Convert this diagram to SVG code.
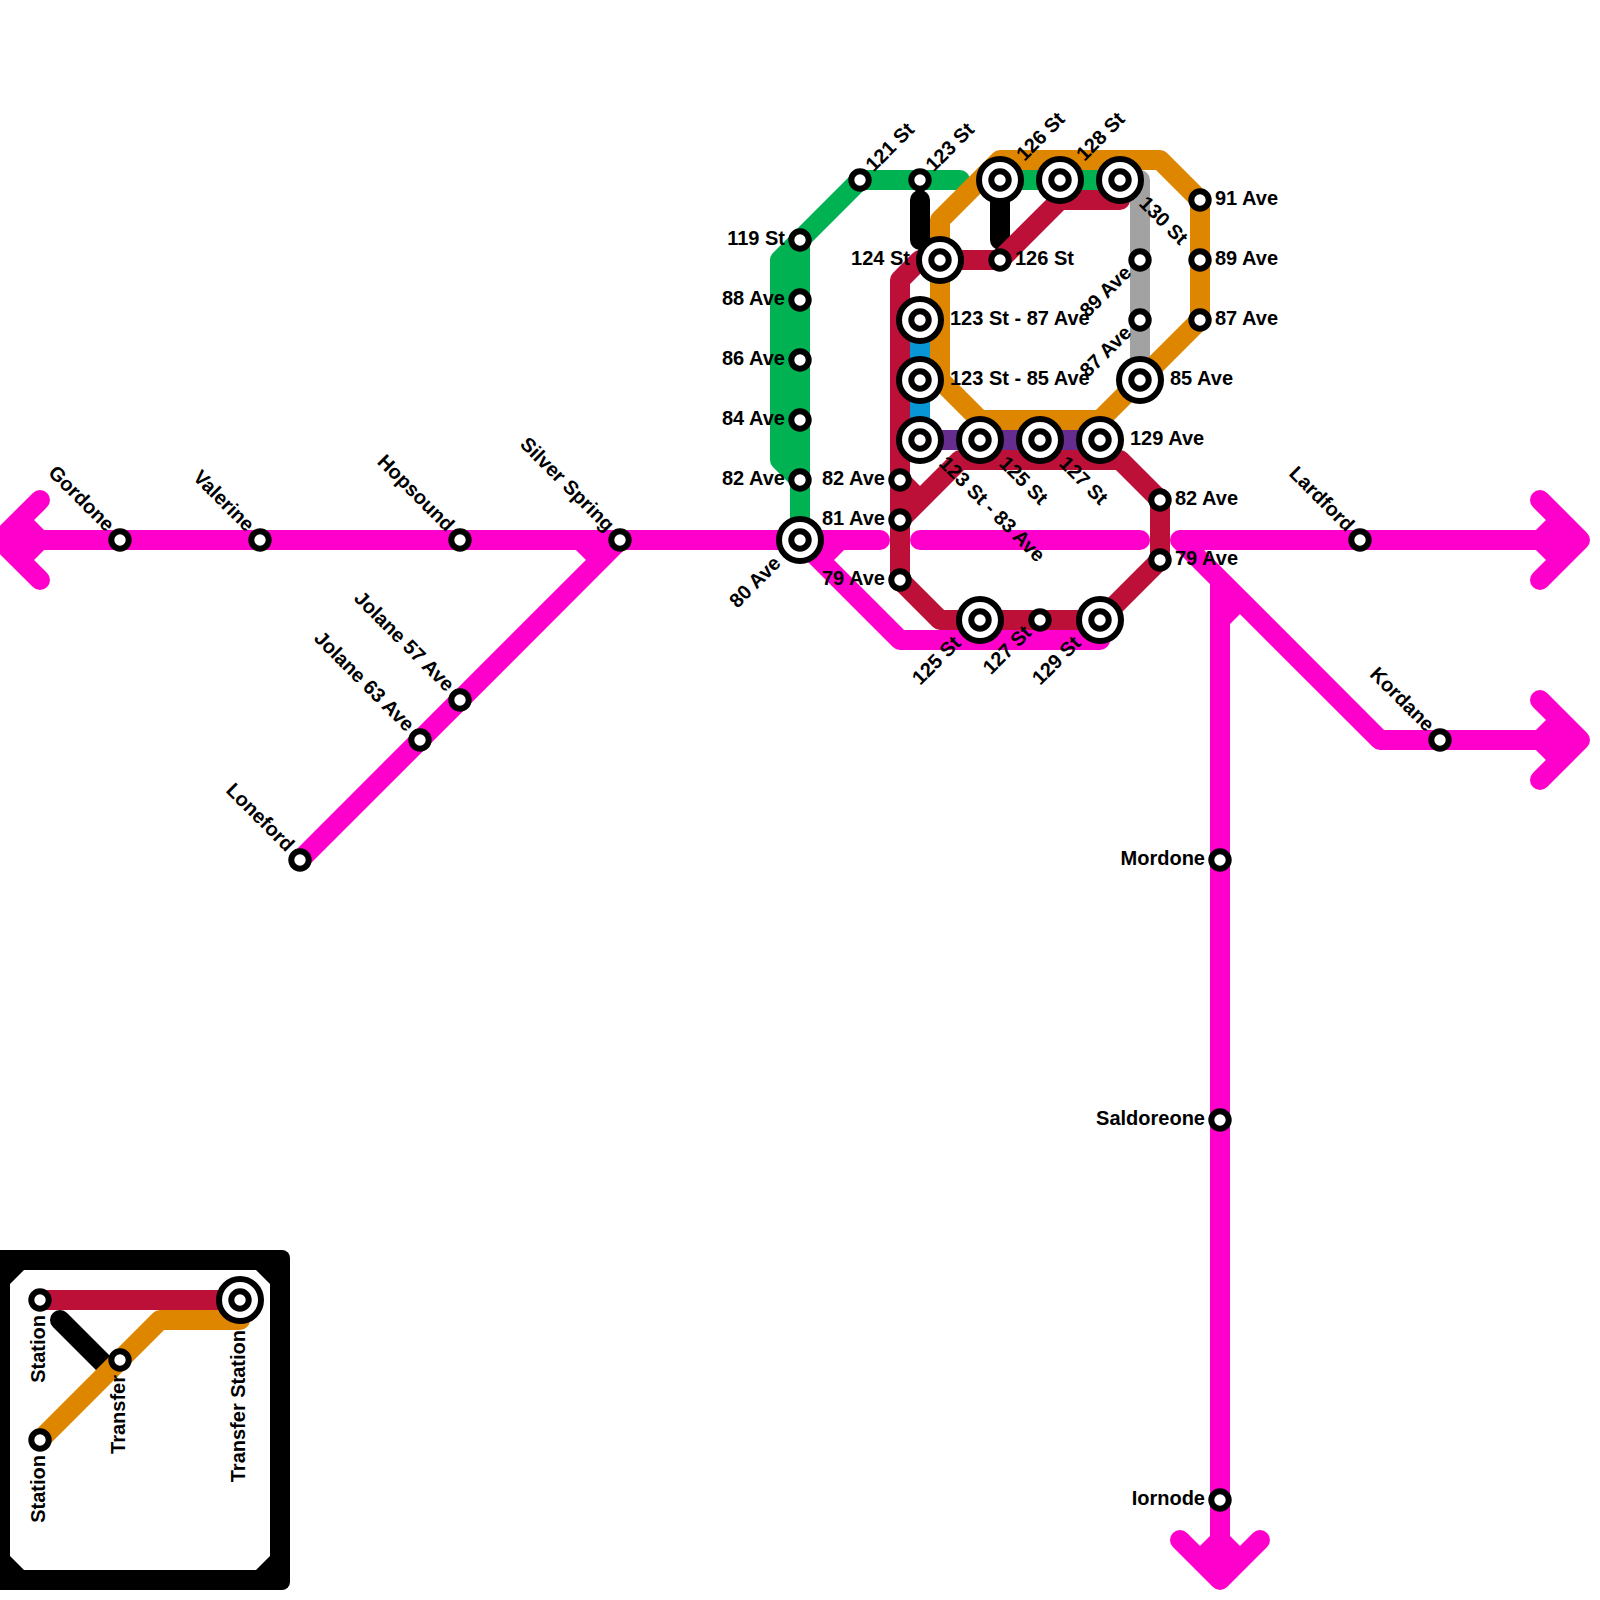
<svg xmlns="http://www.w3.org/2000/svg" width="1600" height="1600" viewBox="0 0 1600 1600">
<style>
.ln{fill:none;stroke-width:20;stroke-linecap:round;stroke-linejoin:round}
.bt{stroke-linecap:butt}
.m{stroke:#ff00cc}.r{stroke:#bd1038}.o{stroke:#df8600}.g{stroke:#00b251}.s{stroke:#a2a2a2}.b{stroke:#0896d7}.p{stroke:#662c90}.k{stroke:#000}
.st{fill:#fff;stroke:#000;stroke-width:6}
text{font-family:"Liberation Sans",Arial,sans-serif;font-size:20px;font-weight:bold;fill:#000}
.e{text-anchor:end}
</style>
<defs>
<g id="s"><circle class="st" r="8.7"/></g>
<g id="t"><circle class="st" r="21"/><circle class="st" r="8.7"/></g>
</defs>
<g id="legend-box"><rect x="-10" y="1250" width="300" height="340" rx="8" fill="#000"/><polygon points="24,1270 256,1270 270,1284 270,1556 256,1570 24,1570 10,1556 10,1284" fill="#fff"/></g>
<g id="connectors">
<path class="ln k" d="M920 200V240M1000 180V240M60 1320L110 1370"/>
<path class="ln s" d="M1120 180H1140V380"/>
<path class="ln g" d="M800 520V240L860 180H960M800 240L780 260V460L800 480M1000 180H1120"/>
<path class="ln b" d="M920 320V440"/>
<path class="ln p" d="M920 440H1100"/>
<path class="ln o" d="M1000 160H1160L1200 200V320L1100 420H980L940 380V220ZM40 1440L160 1320H240"/>
<path class="ln m bt" d="M1220 1580V580M1220 620L1240 600M1540 540L1560 520M1540 540L1560 560M1540 740L1560 720M1540 740L1560 760M40 540L20 520M40 540L20 560M1220 1540L1200 1560M1220 1540L1240 1560"/>
<path class="ln m" d="M0 540H880M920 540H1140M1180 540H1580M40 500L0 540L40 580M1540 500L1580 540L1540 580M1540 700L1580 740L1540 780M1180 1540L1220 1580L1260 1540M580 540L600 560M620 540L300 860M800 540L900 640H1100M820 560L840 540M1180 540L1380 740H1580"/>
<path class="ln r" d="M1120 200H1060L1000 260H920L900 280V580L940 620H1100L1160 560V500L1120 460H960L900 520M900 480L920 500M40 1300H240"/>
</g>
<g id="gordone"><use href="#s" x="120" y="540"/><text class="e" transform="translate(120 540) rotate(45)" x="-15" y="4.5">Gordone</text></g>
<g id="valerine"><use href="#s" x="260" y="540"/><text class="e" transform="translate(260 540) rotate(45)" x="-15" y="4.5">Valerine</text></g>
<g id="hopsound"><use href="#s" x="460" y="540"/><text class="e" transform="translate(460 540) rotate(45)" x="-15" y="4.5">Hopsound</text></g>
<g id="silver-spring"><use href="#s" x="620" y="540"/><text class="e" transform="translate(620 540) rotate(45)" x="-15" y="4.5">Silver Spring</text></g>
<g id="jolane-57"><use href="#s" x="460" y="700"/><text class="e" transform="translate(460 700) rotate(45)" x="-15" y="4.5">Jolane 57 Ave</text></g>
<g id="jolane-63"><use href="#s" x="420" y="740"/><text class="e" transform="translate(420 740) rotate(45)" x="-15" y="4.5">Jolane 63 Ave</text></g>
<g id="loneford"><use href="#s" x="300" y="860"/><text class="e" transform="translate(300 860) rotate(45)" x="-15" y="4.5">Loneford</text></g>
<g id="lardford"><use href="#s" x="1360" y="540"/><text class="e" transform="translate(1360 540) rotate(45)" x="-15" y="4.5">Lardford</text></g>
<g id="kordane"><use href="#s" x="1440" y="740"/><text class="e" transform="translate(1440 740) rotate(45)" x="-15" y="4.5">Kordane</text></g>
<g id="mordone"><use href="#s" x="1220" y="860"/><text class="e" x="1205" y="864.5">Mordone</text></g>
<g id="saldoreone"><use href="#s" x="1220" y="1120"/><text class="e" x="1205" y="1124.5">Saldoreone</text></g>
<g id="iornode"><use href="#s" x="1220" y="1500"/><text class="e" x="1205" y="1504.5">Iornode</text></g>
<g id="st-119"><use href="#s" x="800" y="240"/><text class="e" x="785" y="244.5">119 St</text></g>
<g id="ave-88"><use href="#s" x="800" y="300"/><text class="e" x="785" y="304.5">88 Ave</text></g>
<g id="ave-86"><use href="#s" x="800" y="360"/><text class="e" x="785" y="364.5">86 Ave</text></g>
<g id="ave-84"><use href="#s" x="800" y="420"/><text class="e" x="785" y="424.5">84 Ave</text></g>
<g id="ave-82w"><use href="#s" x="800" y="480"/><text class="e" x="785" y="484.5">82 Ave</text></g>
<g id="ave-80"><use href="#t" x="800" y="540"/><text class="e" transform="translate(800 540) rotate(-45)" x="-30" y="4.5">80 Ave</text></g>
<g id="st-121"><use href="#s" x="860" y="180"/><text transform="translate(860 180) rotate(-45)" x="15" y="4.5">121 St</text></g>
<g id="st-123"><use href="#s" x="920" y="180"/><text transform="translate(920 180) rotate(-45)" x="15" y="4.5">123 St</text></g>
<g id="st-126n"><use href="#t" x="1000" y="180"/><text transform="translate(1000 180) rotate(-45)" x="30" y="4.5">126 St</text></g>
<g id="st-128"><use href="#t" x="1060" y="180"/><text transform="translate(1060 180) rotate(-45)" x="30" y="4.5">128 St</text></g>
<g id="st-130"><use href="#t" x="1120" y="180"/><text transform="translate(1120 180) rotate(45)" x="30" y="4.5">130 St</text></g>
<g id="st-124"><use href="#t" x="940" y="260"/><text class="e" x="910" y="264.5">124 St</text></g>
<g id="st-126"><use href="#s" x="1000" y="260"/><text x="1015" y="264.5">126 St</text></g>
<g id="st-123-87"><use href="#t" x="920" y="320"/><text x="950" y="324.5">123 St - 87 Ave</text></g>
<g id="st-123-85"><use href="#t" x="920" y="380"/><text x="950" y="384.5">123 St - 85 Ave</text></g>
<g id="st-123-83"><use href="#t" x="920" y="440"/><text transform="translate(920 440) rotate(45)" x="30" y="4.5">123 St - 83 Ave</text></g>
<g id="st-125n"><use href="#t" x="980" y="440"/><text transform="translate(980 440) rotate(45)" x="30" y="4.5">125 St</text></g>
<g id="st-127n"><use href="#t" x="1040" y="440"/><text transform="translate(1040 440) rotate(45)" x="30" y="4.5">127 St</text></g>
<g id="ave-129"><use href="#t" x="1100" y="440"/><text x="1130" y="444.5">129 Ave</text></g>
<g id="ave-85"><use href="#t" x="1140" y="380"/><text x="1170" y="384.5">85 Ave</text></g>
<g id="ave-89g"><use href="#s" x="1140" y="260"/><text class="e" transform="translate(1140 260) rotate(-45)" x="-15" y="4.5">89 Ave</text></g>
<g id="ave-87g"><use href="#s" x="1140" y="320"/><text class="e" transform="translate(1140 320) rotate(-45)" x="-15" y="4.5">87 Ave</text></g>
<g id="ave-91"><use href="#s" x="1200" y="200"/><text x="1215" y="204.5">91 Ave</text></g>
<g id="ave-89o"><use href="#s" x="1200" y="260"/><text x="1215" y="264.5">89 Ave</text></g>
<g id="ave-87o"><use href="#s" x="1200" y="320"/><text x="1215" y="324.5">87 Ave</text></g>
<g id="ave-82r"><use href="#s" x="900" y="480"/><text class="e" x="885" y="484.5">82 Ave</text></g>
<g id="ave-81"><use href="#s" x="900" y="520"/><text class="e" x="885" y="524.5">81 Ave</text></g>
<g id="ave-79r"><use href="#s" x="900" y="580"/><text class="e" x="885" y="584.5">79 Ave</text></g>
<g id="ave-82e"><use href="#s" x="1160" y="500"/><text x="1175" y="504.5">82 Ave</text></g>
<g id="ave-79e"><use href="#s" x="1160" y="560"/><text x="1175" y="564.5">79 Ave</text></g>
<g id="st-125s"><use href="#t" x="980" y="620"/><text class="e" transform="translate(980 620) rotate(-45)" x="-30" y="4.5">125 St</text></g>
<g id="st-127s"><use href="#s" x="1040" y="620"/><text class="e" transform="translate(1040 620) rotate(-45)" x="-15" y="4.5">127 St</text></g>
<g id="st-129s"><use href="#t" x="1100" y="620"/><text class="e" transform="translate(1100 620) rotate(-45)" x="-30" y="4.5">129 St</text></g>
<g id="legend-station-1"><use href="#s" x="40" y="1300"/><text class="e" transform="translate(40 1300) rotate(-90)" x="-15" y="4.5">Station</text></g>
<g id="legend-station-2"><use href="#s" x="40" y="1440"/><text class="e" transform="translate(40 1440) rotate(-90)" x="-15" y="4.5">Station</text></g>
<g id="legend-transfer"><use href="#s" x="120" y="1360"/><text class="e" transform="translate(120 1360) rotate(-90)" x="-15" y="4.5">Transfer</text></g>
<g id="legend-transfer-station"><use href="#t" x="240" y="1300"/><text class="e" transform="translate(240 1300) rotate(-90)" x="-30" y="4.5">Transfer Station</text></g>
</svg>
